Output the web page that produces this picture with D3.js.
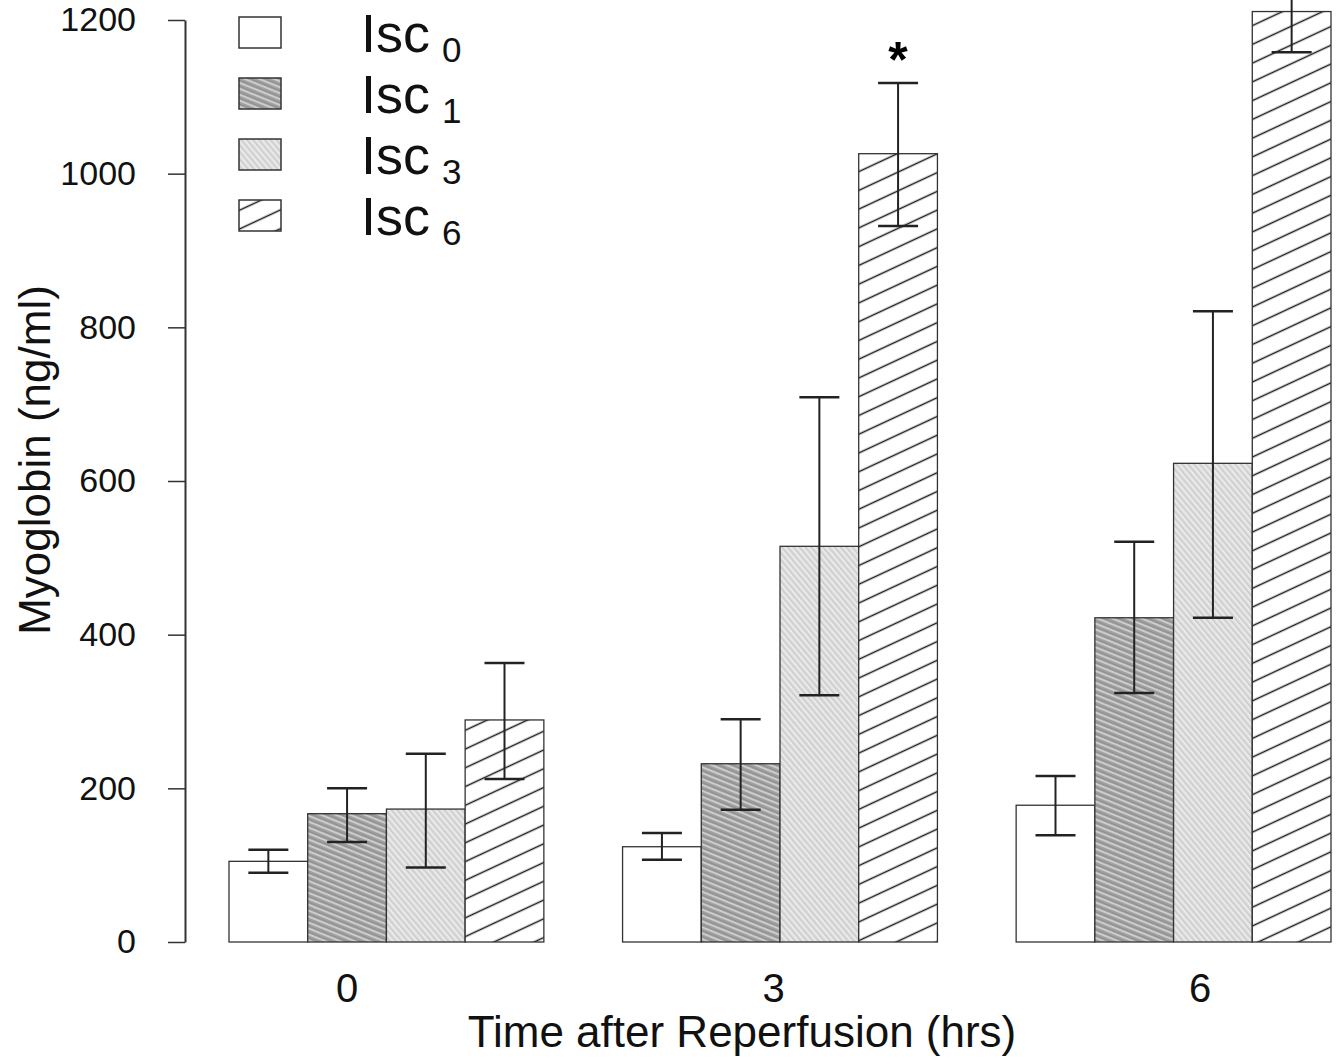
<!DOCTYPE html>
<html>
<head>
<meta charset="utf-8">
<script src="https://cdn.jsdelivr.net/npm/d3@7"></script>
<style>
  html, body { margin: 0; padding: 0; background: #fff; }
  svg { display: block; font-family: "Liberation Sans", Arial, sans-serif; }
</style>
</head>
<body>
<svg id="chart" width="1338" height="1061"></svg>
<script>
// ---- data ----
const times = ["0", "3", "6"];
const timeHours = [0, 3, 6];
const series = ["0", "1", "3", "6"];              // Isc subscripts
const means = {
  "0": [105, 124, 178],
  "1": [167, 232, 422],
  "3": [173, 515, 623],
  "6": [289, 1026, 1211]
};
const errLow = {
  "0": [90, 107, 139],
  "1": [130, 172, 324],
  "3": [97, 321, 422],
  "6": [212, 932, 1158]
};
const errHigh = {
  "0": [120, 142, 216],
  "1": [200, 290, 521],
  "3": [245, 709, 821],
  "6": [363, 1118, 1265]
};
const yTicks = [0, 200, 400, 600, 800, 1000, 1200];
const significant = [{time: "3", series: "6", mark: "*"}];

// ---- layout ----
const svg = d3.select("#chart");
const y = d3.scaleLinear().domain([0, 1200]).range([942, 20]);
const xGroup = d3.scaleBand().domain(times).range([229, 1331]).paddingInner(0.2).paddingOuter(0);
const xSeries = d3.scaleBand().domain(series).range([0, xGroup.bandwidth()]).padding(0);
const xHours = d3.scaleLinear().domain([0, 6]).range([347, 1200]);

// ---- patterns ----
const defs = svg.append("defs");
function hatch(id, bg, stroke, sw, spacing, angle, extra) {
  const p = defs.append("pattern").attr("id", id)
    .attr("patternUnits", "userSpaceOnUse")
    .attr("width", 40).attr("height", spacing)
    .attr("patternTransform", `rotate(${angle})`);
  p.append("rect").attr("width", 40).attr("height", spacing).attr("fill", bg);
  p.append("line").attr("x1", 0).attr("x2", 40).attr("y1", spacing / 2).attr("y2", spacing / 2)
    .attr("stroke", stroke).attr("stroke-width", sw);
  if (extra) {
    p.append("line").attr("x1", 0).attr("x2", 40).attr("y1", 0.5).attr("y2", 0.5)
      .attr("stroke", extra).attr("stroke-width", 0.8);
  }
}
hatch("p1", "#a0a0a0", "#dcdcdc", 1.3, 5.5, 22, "#8a8a8a");
hatch("p3", "#dadada", "#f0f0f0", 1.2, 4.5, 50, "#c6c6c6");
hatch("p6", "#ffffff", "#1a1a1a", 1.6, 17, -25, null);
const fills = { "0": "#ffffff", "1": "url(#p1)", "3": "url(#p3)", "6": "url(#p6)" };

// ---- bars ----
const barData = [];
times.forEach((t, ti) => series.forEach(s => barData.push({
  t, s, v: means[s][ti], lo: errLow[s][ti], hi: errHigh[s][ti]
})));

const g = svg.append("g");
g.selectAll("rect.bar").data(barData).enter().append("rect")
  .attr("class", "bar")
  .attr("x", d => xGroup(d.t) + xSeries(d.s))
  .attr("y", d => y(d.v))
  .attr("width", xSeries.bandwidth())
  .attr("height", d => y(0) - y(d.v))
  .attr("fill", d => fills[d.s])
  .attr("stroke", "#333")
  .attr("stroke-width", 1.3);

// ---- error bars ----
const capW = 40;
const eb = g.selectAll("g.err").data(barData).enter().append("g").attr("class", "err")
  .attr("transform", d => `translate(${xGroup(d.t) + xSeries(d.s) + xSeries.bandwidth() / 2},0)`);
eb.append("line").attr("x1", 0).attr("x2", 0)
  .attr("y1", d => y(d.lo)).attr("y2", d => y(d.hi))
  .attr("stroke", "#222").attr("stroke-width", 2);
eb.append("line").attr("x1", -capW / 2).attr("x2", capW / 2)
  .attr("y1", d => y(d.hi)).attr("y2", d => y(d.hi))
  .attr("stroke", "#222").attr("stroke-width", 2.5);
eb.append("line").attr("x1", -capW / 2).attr("x2", capW / 2)
  .attr("y1", d => y(d.lo)).attr("y2", d => y(d.lo))
  .attr("stroke", "#222").attr("stroke-width", 2.5);

// ---- significance ----
svg.selectAll("text.sig").data(significant).enter().append("text")
  .attr("class", "sig")
  .attr("x", d => xGroup(d.time) + xSeries(d.series) + xSeries.bandwidth() / 2)
  .attr("y", d => y(errHigh[d.series][times.indexOf(d.time)]) - 6)
  .attr("text-anchor", "middle")
  .attr("font-size", 50).attr("font-weight", "bold")
  .text(d => d.mark);

// ---- y axis ----
const yAxis = d3.axisLeft(y).tickValues(yTicks).tickFormat(d3.format("d"))
  .tickSize(17).tickSizeOuter(0).tickPadding(32);
const ya = svg.append("g").attr("transform", "translate(185,0)").call(yAxis);
ya.attr("font-size", null).attr("font-family", null);
ya.select(".domain").attr("stroke", "#333").attr("stroke-width", 2);
ya.selectAll(".tick line").attr("stroke", "#333").attr("stroke-width", 1.5);
ya.selectAll(".tick text").style("font-size", "34px").attr("fill", "#111");

svg.append("text")
  .attr("transform", "translate(50,460) rotate(-90)")
  .attr("text-anchor", "middle")
  .attr("font-size", 44).attr("fill", "#111")
  .text("Myoglobin (ng/ml)");

// ---- x labels ----
svg.selectAll("text.xt").data(timeHours).enter().append("text")
  .attr("class", "xt")
  .attr("x", d => xHours(d))
  .attr("y", 1002)
  .attr("text-anchor", "middle")
  .attr("font-size", 40).attr("fill", "#111")
  .text(d => String(d));

svg.append("text")
  .attr("x", 742).attr("y", 1047)
  .attr("text-anchor", "middle")
  .attr("font-size", 44).attr("fill", "#111")
  .text("Time after Reperfusion (hrs)");

// ---- legend ----
const legend = svg.append("g");
const legY = d3.scalePoint().domain(series).range([17, 200]);
const li = legend.selectAll("g").data(series).enter().append("g")
  .attr("transform", d => `translate(0,${legY(d)})`);
li.append("rect").attr("x", 239).attr("y", 0).attr("width", 42).attr("height", 31)
  .attr("fill", d => fills[d]).attr("stroke", "#333").attr("stroke-width", 1.5);
const lt = li.append("text").attr("x", 361).attr("y", 35).attr("fill", "#111");
lt.append("tspan").attr("font-size", 54).text("Isc");
lt.append("tspan").attr("font-size", 35).attr("dx", 12).attr("dy", 10).text(d => d);
</script>
</body>
</html>
